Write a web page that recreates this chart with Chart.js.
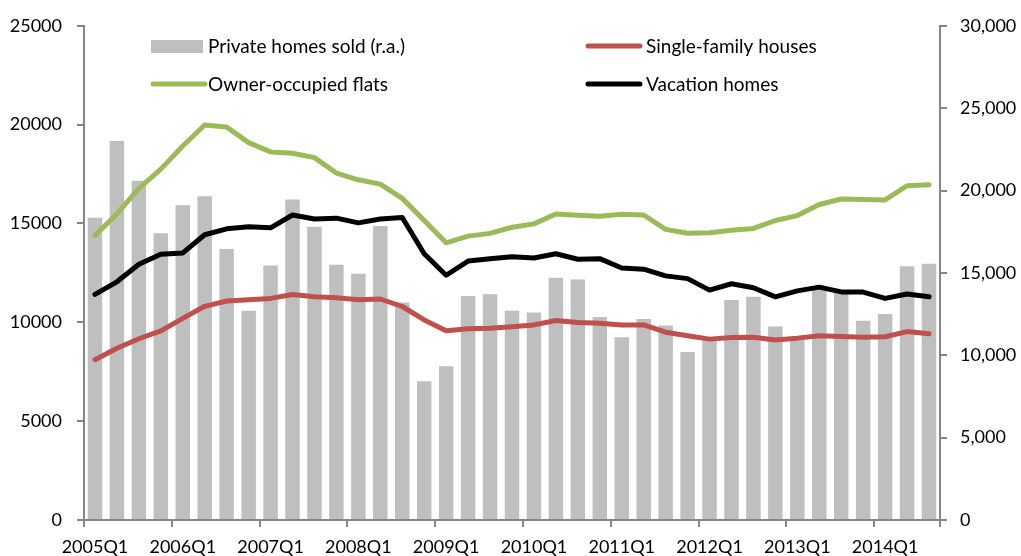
<!DOCTYPE html>
<html>
<head>
<meta charset="utf-8">
<script src="https://cdn.jsdelivr.net/npm/chart.js@4/dist/chart.umd.min.js"></script>
<style>
  html, body { margin: 0; padding: 0; background: #fff; }
</style>
</head>
<body>
<canvas id="housing" width="1021" height="556"></canvas>
<script>
// Quarters 2005Q1 .. 2014Q3
const quarters = [];
for (let y = 2005; y <= 2014; y++) {
    for (let q = 1; q <= 4; q++) {
        if (y === 2014 && q === 4) break;
        quarters.push(y + 'Q' + q);
    }
}

// Private homes sold, right axis
const homesSold = [18350, 23000, 20600, 17400, 19100, 19650, 16450, 12700, 15450, 19450,
    17800, 15500, 14950, 17850, 13200, 8420, 9330, 13600, 13700, 12700,
    12600, 14700, 14600, 12330, 11100, 12200, 11800, 10200, 10950, 13350,
    13550, 11750, 10950, 14000, 13850, 12100, 12500, 15400, 15550];

// Left axis series
const singleFamily = [8110, 8690, 9170, 9570, 10200, 10810, 11080, 11140, 11210, 11410,
    11290, 11240, 11140, 11180, 10800, 10120, 9570, 9680, 9700, 9780,
    9870, 10090, 9990, 9950, 9870, 9870, 9500, 9320, 9150, 9230,
    9250, 9110, 9200, 9320, 9280, 9250, 9270, 9530, 9420];

const ownerFlats = [14400, 15480, 16780, 17750, 18920, 19980, 19880, 19090, 18620, 18550,
    18330, 17550, 17210, 16990, 16270, 15150, 14020, 14360, 14500, 14810,
    14980, 15480, 15420, 15370, 15470, 15430, 14700, 14510, 14530, 14660,
    14750, 15150, 15400, 15960, 16240, 16210, 16190, 16910, 16960];

const vacationHomes = [11410, 12050, 12940, 13440, 13510, 14430, 14730, 14830, 14780, 15430,
    15230, 15270, 15030, 15230, 15300, 13470, 12380, 13100, 13220, 13320,
    13250, 13470, 13190, 13220, 12750, 12690, 12350, 12210, 11630, 11950,
    11750, 11290, 11590, 11780, 11540, 11530, 11210, 11430, 11290];

const axisGrey = '#868686';
const font = { family: 'Lato', size: 18 };

// Legend drawn in two fixed columns like the original
const legendSpots = [
    { x: 151, y: 46, tx: 208 },
    { x: 586, y: 46, tx: 646 },
    { x: 151, y: 84, tx: 208 },
    { x: 586, y: 84, tx: 646 }
];

const gridLegend = {
    id: 'gridLegend',
    afterDraw(chart) {
        const c = chart.ctx;
        c.save();
        c.font = '19px Lato';
        c.textBaseline = 'middle';
        chart.data.datasets.forEach((ds, i) => {
            const spot = legendSpots[i];
            if (ds.type === 'bar') {
                c.fillStyle = ds.backgroundColor;
                c.fillRect(spot.x, spot.y - 6, 52, 13);
            } else {
                c.strokeStyle = ds.borderColor;
                c.lineWidth = 5;
                c.lineCap = 'round';
                c.beginPath();
                c.moveTo(spot.x + 2, spot.y);
                c.lineTo(spot.x + 54, spot.y);
                c.stroke();
            }
            c.fillStyle = '#000';
            c.fillText(ds.label, spot.tx, spot.y + 1);
        });
        c.restore();
    }
};

const lineStyle = {
    type: 'line',
    yAxisID: 'y',
    borderWidth: 5,
    pointRadius: 0,
    tension: 0,
    borderCapStyle: 'round',
    borderJoinStyle: 'round',
    order: 0
};

new Chart(document.getElementById('housing'), {
    data: {
        labels: quarters,
        datasets: [
            {
                type: 'bar',
                label: 'Private homes sold (r.a.)',
                data: homesSold,
                yAxisID: 'y1',
                backgroundColor: '#bfbfbf',
                categoryPercentage: 1,
                barPercentage: 0.66,
                order: 1
            },
            { ...lineStyle, label: 'Single-family houses', data: singleFamily, borderColor: '#c0504d' },
            { ...lineStyle, label: 'Owner-occupied flats', data: ownerFlats, borderColor: '#9bbb59' },
            { ...lineStyle, label: 'Vacation homes', data: vacationHomes, borderColor: '#000000' }
        ]
    },
    options: {
        responsive: false,
        animation: false,
        devicePixelRatio: 1,
        layout: { padding: { top: 22, left: 0, right: 0, bottom: 0 } },
        plugins: {
            legend: { display: false },
            tooltip: { enabled: false }
        },
        scales: {
            x: {
                offset: true,
                afterFit: s => { s.height = 36; },
                border: { display: true, color: axisGrey, width: 2 },
                grid: {
                    offset: true,
                    drawOnChartArea: false,
                    drawTicks: true,
                    tickLength: 7,
                    lineWidth: 2,
                    color: ctx => (ctx.index === undefined || ctx.index % 4 === 0) ? axisGrey : 'rgba(0,0,0,0)'
                },
                ticks: {
                    autoSkip: false,
                    maxRotation: 0,
                    padding: 9,
                    color: '#000',
                    font: font,
                    callback: (val, i) => i % 4 === 0 ? quarters[i] : ''
                }
            },
            y: {
                position: 'left',
                min: 0,
                max: 25000,
                afterFit: s => { s.width = 84; },
                border: { display: true, color: axisGrey, width: 2 },
                grid: { drawOnChartArea: false, drawTicks: true, tickLength: 7, lineWidth: 2, color: axisGrey },
                ticks: { stepSize: 5000, padding: 15, color: '#000', font: font, callback: v => String(v) }
            },
            y1: {
                position: 'right',
                min: 0,
                max: 30000,
                afterFit: s => { s.width = 81; },
                border: { display: true, color: axisGrey, width: 2 },
                grid: { drawOnChartArea: false, drawTicks: true, tickLength: 7, lineWidth: 2, color: axisGrey },
                ticks: {
                    stepSize: 5000,
                    padding: 13,
                    color: '#000',
                    font: font,
                    callback: v => v.toLocaleString('en-US')
                }
            }
        }
    },
    plugins: [gridLegend]
});
</script>
</body>
</html>
